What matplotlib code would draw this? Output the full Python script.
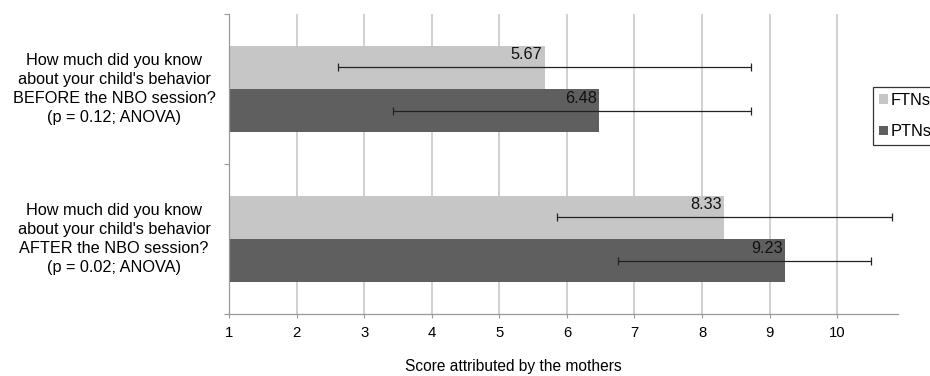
import matplotlib
matplotlib.use('Agg')

import matplotlib.pyplot as plt
import matplotlib.transforms as mtransforms
from matplotlib.patches import Patch

plt.rcParams['font.family'] = ['Liberation Sans', 'DejaVu Sans']

# data
categories = [
    "How much did you know\nabout your child's behavior\nBEFORE the NBO session?\n(p = 0.12; ANOVA)",
    "How much did you know\nabout your child's behavior\nAFTER the NBO session?\n(p = 0.02; ANOVA)",
]
ftn_means = [5.67, 8.33]
ptn_means = [6.48, 9.23]
ftn_err_low = [3.05, 2.48]
ftn_err_high = [3.05, 2.48]
ptn_err_low = [3.05, 2.48]
ptn_err_high = [2.24, 1.27]
series_names = ['FTNs', 'PTNs']
x_ticks = list(range(1, 11))

light = '#c6c6c6'
dark = '#5f5f5f'

fig = plt.figure(figsize=(9.3, 3.76), dpi=100)
ax = fig.add_axes([229 / 930, 1 - 314 / 376, (898 - 229) / 930, (314 - 14) / 376])

ypos = [1, 0]  # first category at top
h = 0.287
y_ftn = [y + h / 2 for y in ypos]
y_ptn = [y - h / 2 for y in ypos]

left = 1
ax.barh(y_ftn, [m - left for m in ftn_means], left=left, height=h, color=light, zorder=2)
ax.barh(y_ptn, [m - left for m in ptn_means], left=left, height=h, color=dark, zorder=2)

ax.errorbar(ftn_means, y_ftn, xerr=[ftn_err_low, ftn_err_high], fmt='none',
            ecolor='#222222', elinewidth=0.9, capsize=2.6, capthick=0.9, zorder=3)
ax.errorbar(ptn_means, y_ptn, xerr=[ptn_err_low, ptn_err_high], fmt='none',
            ecolor='#222222', elinewidth=0.9, capsize=2.6, capthick=0.9, zorder=3)

# value labels
for vals, ys in [(ftn_means, y_ftn), (ptn_means, y_ptn)]:
    for v, y in zip(vals, ys):
        ax.annotate(f'{v:.2f}', (v, y), textcoords='offset points', xytext=(-1.5, 9),
                    ha='right', va='center', fontsize=11.7, color='#111111', zorder=4)

ax.set_xlim(1, 10.9)
ax.set_ylim(-0.5, 1.5)
ax.set_xticks(x_ticks)
ax.set_xticklabels([str(t) for t in x_ticks], fontsize=10.7)
ax.set_yticks([-0.5, 0.5, 1.5])
ax.set_yticklabels([])
ax.tick_params(axis='x', length=3, width=0.8, color='#999999', pad=5.5)
ax.tick_params(axis='y', length=3.5, width=0.8, color='#999999')

ax.grid(axis='x', color='#c4c4c4', linewidth=1.1, zorder=0)
ax.set_axisbelow(True)
for s in ['top', 'right']:
    ax.spines[s].set_visible(False)
for s in ['left', 'bottom']:
    ax.spines[s].set_color('#999999')
    ax.spines[s].set_linewidth(0.9)

# category labels on the left
trans = mtransforms.blended_transform_factory(fig.transFigure, ax.transData)
for y, lab in zip(ypos, categories):
    ax.text(114 / 930, y, lab, transform=trans, ha='center', va='center',
            multialignment='center', fontsize=11.7, linespacing=1.36)

fig.text(513 / 930, 1 - 367 / 376, 'Score attributed by the mothers',
         ha='center', va='center', fontsize=11.2)

handles = [Patch(facecolor=light, edgecolor='none'), Patch(facecolor=dark, edgecolor='none')]
leg = fig.legend(handles, series_names, loc='lower left',
                 bbox_to_anchor=(873 / 930, 1 - 145 / 376), fontsize=11.8,
                 frameon=True, fancybox=False, borderpad=0.35, handlelength=0.55,
                 handleheight=0.55, handletextpad=0.15, labelspacing=1.0,
                 borderaxespad=0)
leg.get_frame().set_edgecolor('black')
leg.get_frame().set_linewidth(0.9)

fig.savefig('out.png', dpi=100)
